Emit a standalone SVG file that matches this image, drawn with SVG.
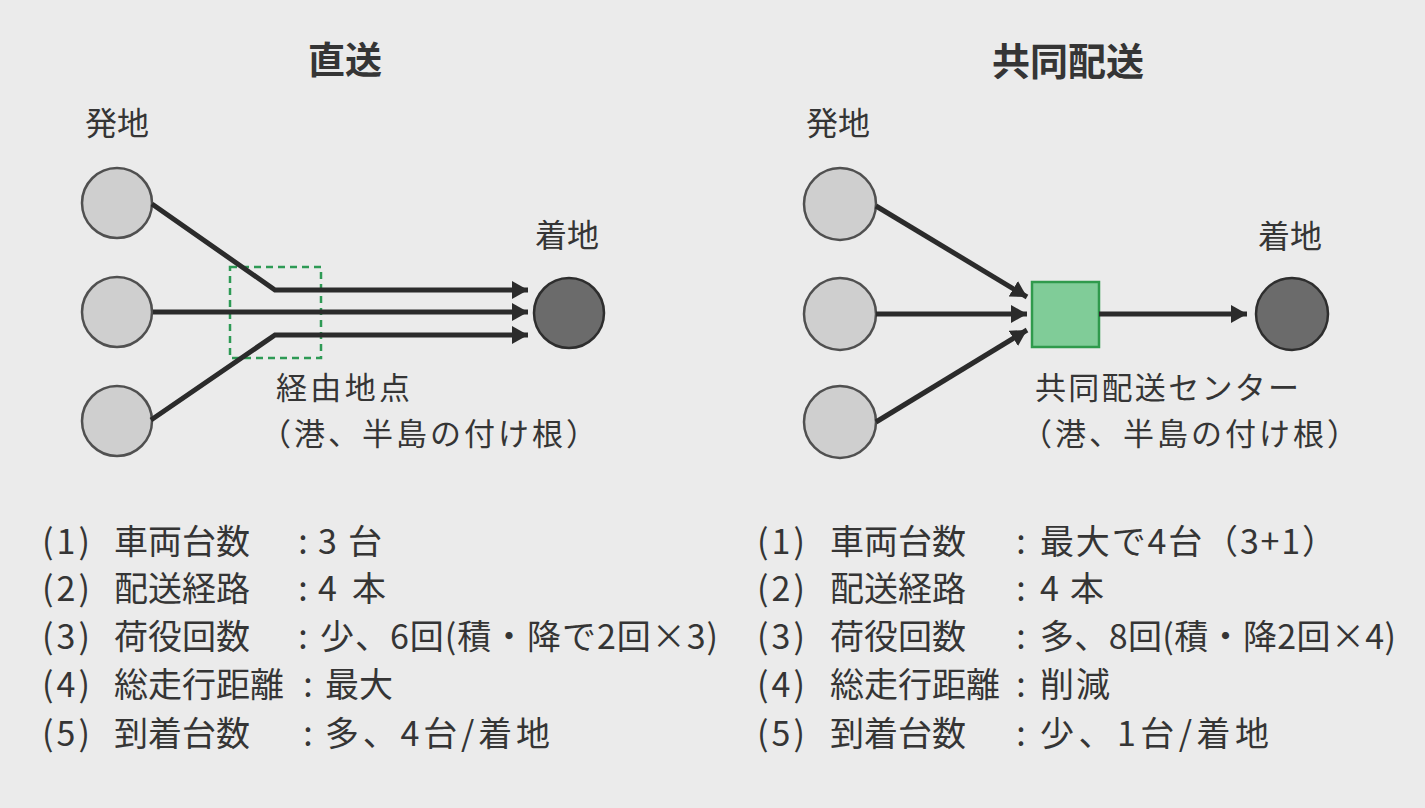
<svg xmlns="http://www.w3.org/2000/svg" width="1425" height="808" viewBox="0 0 1425 808">
  <style>
    text { font-family: "Noto Sans CJK JP", "Noto Sans CJK SC", sans-serif; fill: #353535; }
    .title { font-size: 37px; font-weight: 700; }
    .lbl { font-size: 32px; }
    .sub { font-size: 31px; }
    .row { font-size: 34px; }
    .src { fill: #cfcfcf; stroke: #505050; stroke-width: 2.5; }
    .dst { fill: #6b6b6b; stroke: #2e2e2e; stroke-width: 2.5; }
    .flow { fill: none; stroke: #2b2b2b; stroke-width: 5; marker-end: url(#ah); }
  </style>
  <defs>
    <marker id="ah" markerUnits="userSpaceOnUse" markerWidth="18" markerHeight="20" refX="16" refY="9" orient="auto" viewBox="0 0 18 20">
      <path d="M0,0 L16,9 L0,18 Z" fill="#2b2b2b"/>
    </marker>
  </defs>
  <rect width="1425" height="808" fill="#ebebeb"/>

  <!-- Left: 直送 -->
  <g id="title-left"><text class="title" x="308" y="74">直送</text></g>
  <g id="label-origin-left"><text class="lbl" x="85" y="135">発地</text></g>
  <g id="label-dest-left"><text class="lbl" x="535" y="247">着地</text></g>
  <g id="origin-l1"><circle class="src" cx="117" cy="203" r="35"/></g>
  <g id="origin-l2"><circle class="src" cx="117" cy="312" r="35"/></g>
  <g id="origin-l3"><circle class="src" cx="117" cy="421" r="35"/></g>
  <g id="dest-left"><circle class="dst" cx="569" cy="313" r="35"/></g>
  <g id="waypoint">
    <rect x="230" y="267" width="91" height="91" fill="none" stroke="#2e9a55" stroke-width="2.5" stroke-dasharray="7 5"/>
  </g>
  <g id="waypoint-label">
    <text class="sub" x="276" y="399" textLength="134">経由地点</text>
    <text class="sub" x="260" y="445" textLength="337">（港、半島の付け根）</text>
  </g>

  <!-- Right: 共同配送 -->
  <g id="title-right"><text class="title" x="992" y="75" style="font-size:38px">共同配送</text></g>
  <g id="label-origin-right"><text class="lbl" x="806" y="135">発地</text></g>
  <g id="label-dest-right"><text class="lbl" x="1258" y="248">着地</text></g>
  <g id="origin-r1"><circle class="src" cx="840" cy="204" r="36"/></g>
  <g id="origin-r2"><circle class="src" cx="840" cy="314" r="36"/></g>
  <g id="origin-r3"><circle class="src" cx="840" cy="422" r="36"/></g>
  <g id="dest-right"><circle class="dst" cx="1292" cy="314" r="36"/></g>
  <g id="center">
    <rect x="1032" y="282" width="67" height="65" fill="#80cc98" stroke="#2f9a4c" stroke-width="2.5"/>
  </g>
  <g id="center-label">
    <text class="sub" x="1035" y="399" textLength="264">共同配送センター</text>
    <text class="sub" x="1021" y="445" textLength="337">（港、半島の付け根）</text>
  </g>

  <!-- Connectors -->
  <g id="connectors">
    <path class="flow" d="M152,204 L275,290 L528,290"/>
    <path class="flow" d="M153,312 L528,312"/>
    <path class="flow" d="M151,420 L275,335 L528,335"/>
    <path class="flow" d="M876,206 L1027,297"/>
    <path class="flow" d="M876,314 L1027,314"/>
    <path class="flow" d="M876,422 L1027,330"/>
    <path class="flow" d="M1099,314 L1247,314"/>
  </g>

  <!-- Left list -->
  <g id="list-left">
    <text class="row" y="554"><tspan x="42" textLength="48">(1)</tspan><tspan x="114">車両台数</tspan><tspan x="303" text-anchor="middle">:</tspan><tspan x="318" textLength="64">3台</tspan></text>
    <text class="row" y="601"><tspan x="42" textLength="48">(2)</tspan><tspan x="114">配送経路</tspan><tspan x="303" text-anchor="middle">:</tspan><tspan x="318" textLength="68">4本</tspan></text>
    <text class="row" y="649"><tspan x="42" textLength="48">(3)</tspan><tspan x="114">荷役回数</tspan><tspan x="303" text-anchor="middle">:</tspan><tspan x="320" textLength="398">少、6回(積・降で2回×3)</tspan></text>
    <text class="row" y="697"><tspan x="42" textLength="48">(4)</tspan><tspan x="114">総走行距離</tspan><tspan x="308" text-anchor="middle">:</tspan><tspan x="325" textLength="68">最大</tspan></text>
    <text class="row" y="746"><tspan x="42" textLength="48">(5)</tspan><tspan x="114">到着台数</tspan><tspan x="308" text-anchor="middle">:</tspan><tspan x="325" textLength="225">多、4台/着地</tspan></text>
  </g>

  <!-- Right list -->
  <g id="list-right">
    <text class="row" y="554"><tspan x="757" textLength="48">(1)</tspan><tspan x="830">車両台数</tspan><tspan x="1021" text-anchor="middle">:</tspan><tspan x="1040" textLength="296">最大で4台（3+1）</tspan></text>
    <text class="row" y="601"><tspan x="757" textLength="48">(2)</tspan><tspan x="830">配送経路</tspan><tspan x="1021" text-anchor="middle">:</tspan><tspan x="1040" textLength="64">4本</tspan></text>
    <text class="row" y="649"><tspan x="757" textLength="48">(3)</tspan><tspan x="830">荷役回数</tspan><tspan x="1021" text-anchor="middle">:</tspan><tspan x="1040" textLength="356">多、8回(積・降2回×4)</tspan></text>
    <text class="row" y="697"><tspan x="757" textLength="48">(4)</tspan><tspan x="830">総走行距離</tspan><tspan x="1021" text-anchor="middle">:</tspan><tspan x="1040" textLength="70">削減</tspan></text>
    <text class="row" y="746"><tspan x="757" textLength="48">(5)</tspan><tspan x="830">到着台数</tspan><tspan x="1021" text-anchor="middle">:</tspan><tspan x="1040" textLength="229">少、1台/着地</tspan></text>
  </g>
</svg>
